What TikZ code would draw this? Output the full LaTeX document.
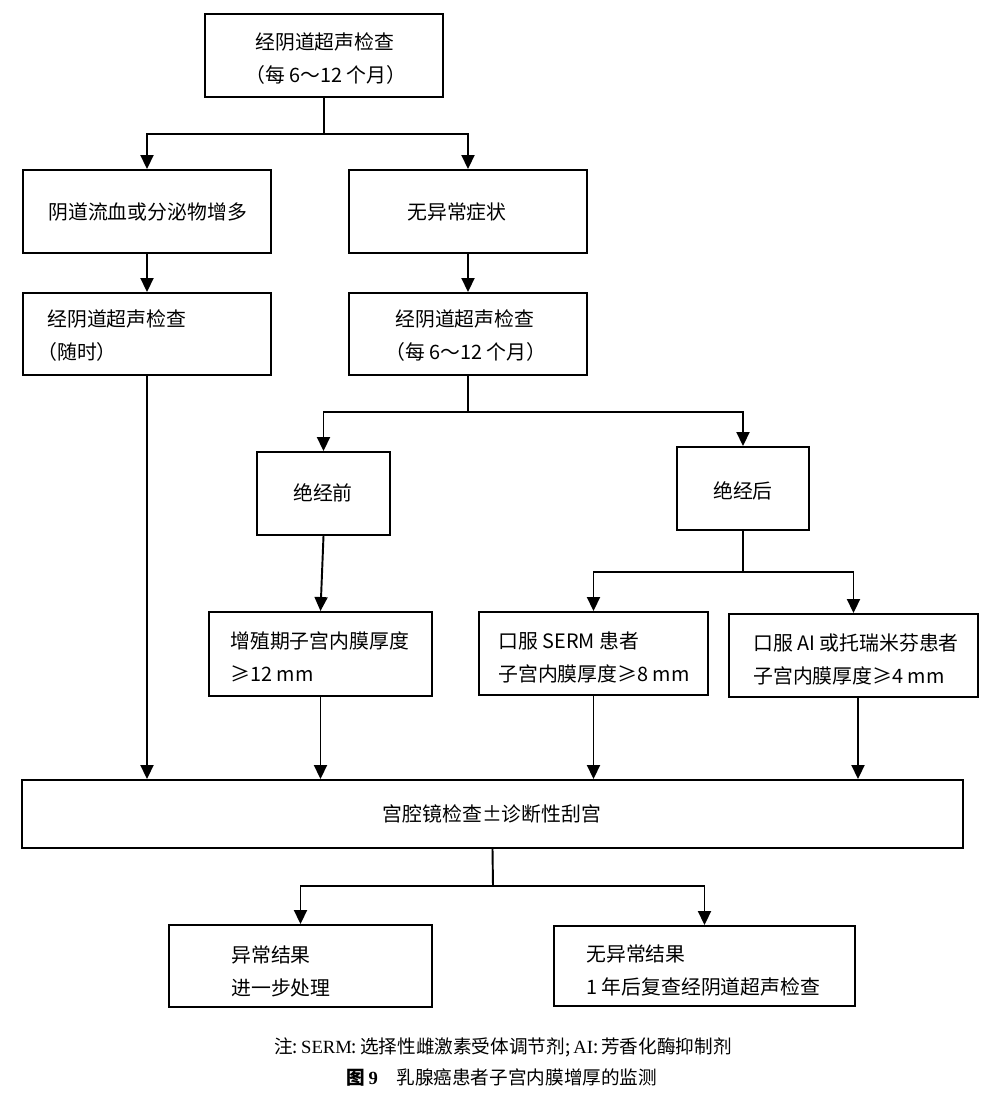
\documentclass[tikz,border=0pt]{standalone}
\usepackage{fontspec}
\setmainfont{Noto Sans CJK SC}
\newfontfamily\capserif{Liberation Serif}
\usetikzlibrary{arrows.meta,fit}
\newcommand\geqsl{\iffontchar\font"2A7E ⩾\else ≥\fi}
\newcommand\lpar{\hspace*{-0.5em}（}
\begin{document}
\begin{tikzpicture}[x=0.02cm,y=-0.02cm,
  box/.style={draw,line width=1.1pt,inner sep=0pt},
  txt/.style={font=\fontsize{11.3}{18.8}\selectfont,align=left,inner sep=0pt,anchor=west},
  ctxt/.style={font=\fontsize{11.3}{18.8}\selectfont,align=center,inner sep=0pt},
  captxt/.style={font=\fontsize{10.6}{12}\selectfont,inner sep=0pt},
  ln/.style={line width=1.1pt},
  arr/.style={line width=1.1pt,-{Triangle[length=0.28cm,width=0.26cm]}}]
\useasboundingbox (0,0) rectangle (1004,1099);
\fill[white] (0,0) rectangle (1004,1099);

% boxes
\node[box,fit={(205,14)(443,97)}] (A) {};
\node[box,fit={(23,170)(271,253)}] (B) {};
\node[box,fit={(349,170)(587,253)}] (C) {};
\node[box,fit={(23,293)(271,375)}] (D) {};
\node[box,fit={(349,293)(587,375)}] (E) {};
\node[box,fit={(257,452)(390,535)}] (F) {};
\node[box,fit={(677,447)(809,530)}] (G) {};
\node[box,fit={(209,612)(432,696)}] (H) {};
\node[box,fit={(479,612)(708,695)}] (I) {};
\node[box,fit={(729,614)(978,697)}] (J) {};
\node[box,fit={(22,780)(963,848)}] (K) {};
\node[box,fit={(169,925)(432,1007)}] (L) {};
\node[box,fit={(554,926)(855,1006)}] (M) {};

% texts
\node[txt] (tA) at (255,59) {经阴道超声检查\\\lpar 每 6～12 个月）};
\node[txt] (tB) at (48,212) {阴道流血或分泌物增多};
\node[txt] (tC) at (407,212) {无异常症状};
\node[txt] (tD) at (47,336) {经阴道超声检查\\\lpar 随时）};
\node[txt] (tE) at (395,336) {经阴道超声检查\\\lpar 每 6～12 个月）};
\node[ctxt] (tF) at (323,493) {绝经前};
\node[ctxt] (tG) at (743,491) {绝经后};
\node[txt] (tH) at (230,657) {增殖期子宫内膜厚度\\\geqsl 12 mm};
\node[txt] (tI) at (498,657.5) {口服 SERM 患者\\子宫内膜厚度\geqsl 8 mm};
\node[txt] (tJ) at (753,659.5) {口服 AI 或托瑞米芬患者\\子宫内膜厚度\geqsl 4 mm};
\node[ctxt] (tK) at (492,814) {宫腔镜检查±诊断性刮宫};
\node[txt] (tL) at (231,971) {异常结果\\进一步处理};
\node[txt] (tM) at (586,970.5) {无异常结果\\1 年后复查经阴道超声检查};

% caption
\node[captxt] (cap1) at (503,1047) {注:\,{\capserif SERM}:\,选择性雌激素受体调节剂;\,{\capserif AI}:\,芳香化酶抑制剂};
\node[captxt] (cap2) at (502,1077) {{\bfseries 图\,{\capserif\bfseries 9}}\quad 乳腺癌患者子宫内膜增厚的监测};

% connectors
\draw[ln] (A.south) -- (324,134) coordinate (jA);
\draw[arr] (jA) -| (B.north);
\draw[arr] (jA) -| (C.north);
\draw[arr] (B.south) -- (D.north);
\draw[arr] (C.south) -- (E.north);
\draw[ln] (E.south) -- (468,412) coordinate (jE);
\draw[arr] (jE) -| (F.north);
\draw[arr] (jE) -| (G.north);
\draw[arr] (F.south) -- (H.north);
\draw[ln] (G.south) -- (743,572) coordinate (jG);
\draw[arr] (jG) -| (I.north);
\draw[arr] (jG) -| (J.north);
\draw[arr] (D.south) -- (D.south |- K.north);
\draw[arr] (H.south) -- (H.south |- K.north);
\draw[arr] (I.south) -- (I.south |- K.north);
\coordinate (Jo) at (858,697);
\draw[arr] (Jo) -- (Jo |- K.north);
\draw[ln] (K.south) -- (493,886) coordinate (jK);
\draw[arr] (jK) -| (L.north);
\draw[arr] (jK) -| (M.north);
\end{tikzpicture}
\end{document}
